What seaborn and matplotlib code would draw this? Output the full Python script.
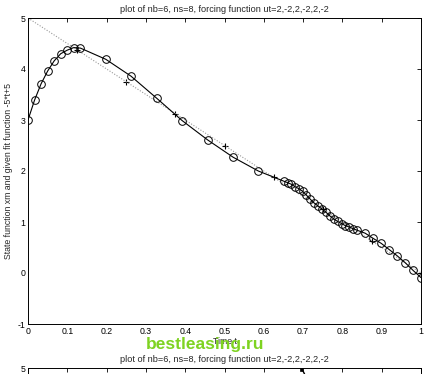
import matplotlib
matplotlib.use("Agg")
import matplotlib.pyplot as plt
import seaborn as sns
import pandas as pd

# state function xm
t_xm = [0.0, 0.0167, 0.0333, 0.05, 0.0667, 0.0833, 0.1, 0.1167, 0.1333,
        0.198, 0.262, 0.327, 0.392, 0.457, 0.522, 0.586, 0.651,
        0.661, 0.670, 0.680, 0.690, 0.699, 0.708, 0.718, 0.727, 0.737,
        0.747, 0.757, 0.768, 0.778, 0.788, 0.798, 0.807, 0.818, 0.827, 0.837,
        0.858, 0.878, 0.899, 0.919, 0.939, 0.960, 0.980, 1.0]
y_xm = [3.0, 3.39, 3.71, 3.96, 4.16, 4.30, 4.37, 4.42, 4.41,
        4.19, 3.86, 3.43, 2.99, 2.61, 2.27, 2.0, 1.80,
        1.77, 1.74, 1.69, 1.65, 1.60, 1.53, 1.45, 1.38, 1.32,
        1.26, 1.20, 1.12, 1.06, 1.01, 0.97, 0.93, 0.90, 0.87, 0.84,
        0.78, 0.68, 0.58, 0.46, 0.34, 0.20, 0.05, -0.09]

# given fit function -5*t+5
t_fit = [0.0, 0.125, 0.25, 0.375, 0.5, 0.625, 0.75, 0.875, 1.0]
y_fit = [5.0, 4.375, 3.75, 3.125, 2.5, 1.875, 1.25, 0.625, 0.0]

# visible piece of the second (cropped) plot
t_2 = [0.698, 0.712]
y_2 = [4.97, 4.75]

x_ticks = [0, 0.1, 0.2, 0.3, 0.4, 0.5, 0.6, 0.7, 0.8, 0.9, 1]
x_ticklabels = ["0", "0.1", "0.2", "0.3", "0.4", "0.5", "0.6", "0.7", "0.8", "0.9", "1"]
y_ticks = [-1, 0, 1, 2, 3, 4, 5]
y_ticklabels = ["-1", "0", "1", "2", "3", "4", "5"]

title = "plot of nb=6, ns=8, forcing function ut=2,-2,2,-2,2,-2"
ylabel = "State function xm and given fit function -5*t+5"
xlabel = "Time t"

sns.set_style("white")
plt.rcParams['font.family'] = ['Liberation Sans', 'DejaVu Sans']

fig = plt.figure(figsize=(4.34, 3.74), dpi=100)
L, W = 28 / 434, (421 - 28) / 434
ax = fig.add_axes([L, 1 - 324 / 374, W, (324 - 18) / 374])
ax2 = fig.add_axes([L, 1 - 368 / 374 - 0.818, W, 0.818])

df_xm = pd.DataFrame({"t": t_xm, "y": y_xm})
df_fit = pd.DataFrame({"t": t_fit, "y": y_fit})

sns.lineplot(data=df_fit, x="t", y="y", ax=ax, color="#999999", lw=0.8,
             linestyle=(0, (1, 1.5)), sort=False)
sns.lineplot(data=df_xm, x="t", y="y", ax=ax, color="black", lw=0.8, sort=False,
             marker="o", markersize=5.5, markerfacecolor="none",
             markeredgecolor="black", markeredgewidth=0.7)
sns.scatterplot(data=df_fit, x="t", y="y", ax=ax, marker="+", color="black",
                s=25, linewidth=0.8)

df2 = pd.DataFrame({"t": t_2, "y": y_2})
sns.lineplot(data=df2, x="t", y="y", ax=ax2, color="black", lw=1.0, sort=False)
sns.scatterplot(x=t_2[:1], y=y_2[:1], ax=ax2, marker="s", color="black", s=8)

for a in (ax, ax2):
    a.set_xlim(0, 1)
    a.set_ylim(-1, 5)
    a.set_xticks(x_ticks)
    a.set_yticks(y_ticks)
    a.tick_params(direction="in", top=True, right=True, length=3, width=0.6,
                  labelsize=6.3, pad=2, colors="black")
    for s in a.spines.values():
        s.set_linewidth(0.7)
        s.set_color("black")
    a.set_xlabel("")
    a.set_ylabel("")

ax.set_xticklabels(x_ticklabels)
ax.set_yticklabels(y_ticklabels)
ax.set_xlabel(xlabel, fontsize=6.3, labelpad=1)
ax.set_ylabel(ylabel, fontsize=6.3, labelpad=3)
ax.set_title(title, fontsize=6.6, pad=4)
ax2.set_title(title, fontsize=6.6, pad=4)
ax2.set_xticklabels([])
ax2.set_yticklabels([""] * 6 + [y_ticklabels[-1]])

fig.text(205 / 434, 1 - 344 / 374, "bestleasing.ru", color="#7ed321",
         fontsize=12.5, fontweight="bold", ha="center", va="center")

fig.savefig("out.png", dpi=100)
